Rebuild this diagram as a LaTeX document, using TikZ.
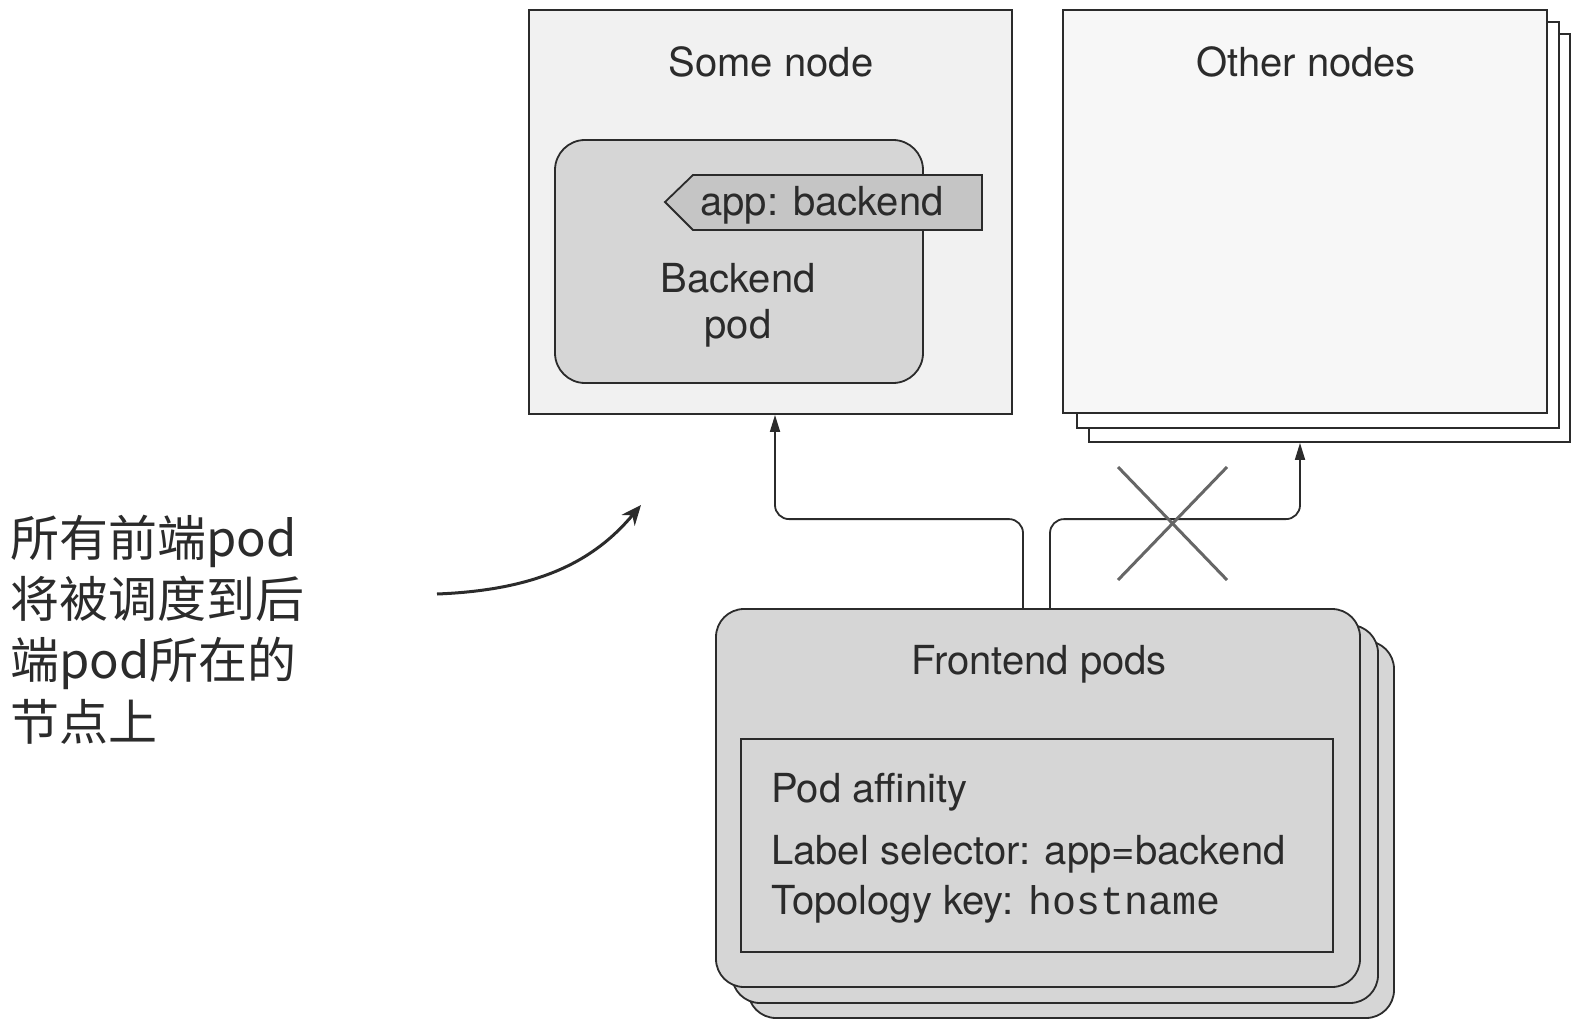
\documentclass[tikz,border=0pt]{standalone}
\usepackage{fontspec}
\setmainfont{TeX Gyre Heros}
\setmonofont{Liberation Mono}
\newfontfamily\cjk{Noto Sans CJK SC}
\usetikzlibrary{arrows.meta}
\definecolor{ink}{HTML}{2B2B2B}
\definecolor{podfill}{HTML}{D6D6D6}
\definecolor{nodefill}{HTML}{F1F1F1}
\definecolor{crossc}{HTML}{666666}
\begin{document}
\begin{tikzpicture}[x=1pt,y=-1pt,
  box/.style={draw=ink, line width=1.8pt, inner sep=0pt},
  lbl/.style={font=\fontsize{40}{46}\selectfont, text=ink, inner sep=0pt},
  cjklbl/.style={font=\cjk\fontsize{49}{58}\selectfont, text=ink, inner sep=0pt, anchor=base west},
  arr/.style={draw=ink, line width=1.8pt, rounded corners=14pt, -{Triangle[length=17pt,width=10pt]}}
]
\useasboundingbox (0,0) rectangle (1586,1032);

% Some node
\node[box, fill=nodefill, minimum width=483pt, minimum height=404pt] (sn) at (770.5,212) {};
\node[lbl, anchor=base] (snl) at (771,77) {Some node};

% Backend pod
\node[box, rounded corners=30pt, fill=podfill, minimum width=368pt, minimum height=243pt] (bp) at (739,261.5) {};
\draw[box, fill=podfill!92!black] (665,202) -- (693,175) -- (982,175) -- (982,230) -- (693,230) -- cycle;
\node[lbl, anchor=base] (tag) at (822,216) {app: backend};
\node[lbl, anchor=base] (bpl1) at (738,292) {Backend};
\node[lbl, anchor=base] (bpl2) at (738,338) {pod};

% Other nodes (stack)
\node[box, fill=white, minimum width=481pt, minimum height=408pt] (o3) at (1329.5,238) {};
\node[box, fill=white, minimum width=482pt, minimum height=406pt] (o2) at (1318,225) {};
\node[box, fill=nodefill!60!white, minimum width=484pt, minimum height=403pt] (o1) at (1305,211.5) {};
\node[lbl, anchor=base] (onl) at (1306,77) {Other nodes};

% Frontend pods (stack)
\node[box, rounded corners=28pt, fill=podfill, minimum width=646pt, minimum height=377pt] (fe3) at (1071,829.5) {};
\node[box, rounded corners=28pt, fill=podfill, minimum width=646pt, minimum height=378pt] (fe2) at (1055,814) {};
\node[box, rounded corners=28pt, fill=podfill, minimum width=644pt, minimum height=378pt] (fe) at (1038,798) {};
\node[lbl, anchor=base] (fel) at (1039,674) {Frontend pods};
\node[draw=ink, line width=1.5pt, fill=podfill, inner sep=0pt, minimum width=592pt, minimum height=213pt] (aff) at (1037,845.5) {};
\node[lbl, anchor=base west] (aff1) at (771,802) {Pod affinity};
\node[lbl, anchor=base west] (aff2) at (771,864) {Label selector: app=backend};
\node[lbl, anchor=base west] (aff3) at (771,914) {Topology key: {\ttfamily hostname}};

% Connectors
\coordinate (a1) at (1023,0);
\coordinate (a2) at (775,0);
\coordinate (b1) at (1050,0);
\coordinate (b2) at (1300,0);
\draw[arr] (fe.north -| a1) -- ++(0,-89) -| (sn.south -| a2);
\draw[arr] (fe.north -| b1) -- ++(0,-89) -| (o3.south -| b2);

% Cross
\coordinate (x1) at (1118,467);
\coordinate (x2) at (1227,580);
\coordinate (x3) at (1227,467);
\coordinate (x4) at (1118,580);
\draw[crossc, line width=3pt] (x1) -- (x2);
\draw[crossc, line width=3pt] (x3) -- (x4);

% Annotation
\node[cjklbl] (n1) at (10,556) {所有前端pod};
\node[cjklbl] (n2) at (10,617) {将被调度到后};
\node[cjklbl] (n3) at (10,678) {端pod所在的};
\node[cjklbl] (n4) at (10,740) {节点上};
\coordinate (cs) at (437,594);
\coordinate (ce) at (641,505);
\draw[ink, line width=3pt, -{Stealth[length=20pt,width=17pt]}] (cs) .. controls (540,590) and (595,560) .. (ce);
\end{tikzpicture}
\end{document}
